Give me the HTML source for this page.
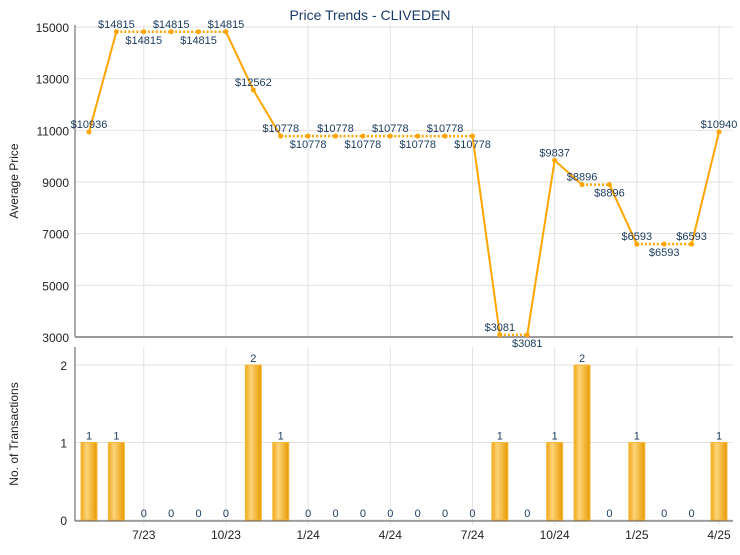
<!DOCTYPE html>
<html><head><meta charset="utf-8"><style>
body{margin:0;background:#fff;font-family:"Liberation Sans",sans-serif}
svg text{font-family:"Liberation Sans",sans-serif}
</style></head><body>
<svg width="740" height="550" viewBox="0 0 740 550" xmlns="http://www.w3.org/2000/svg">
<defs>
<linearGradient id="bg" x1="0" x2="1" y1="0" y2="0">
<stop offset="0" stop-color="#f0a818"/><stop offset="0.35" stop-color="#fcd47a"/><stop offset="1" stop-color="#e89a00"/>
</linearGradient>
</defs>
<text x="370" y="20" text-anchor="middle" font-size="14" fill="#1a3a6c">Price Trends - CLIVEDEN</text>
<g id="g"></g>
</svg>
<script>
const months=["5/23","6/23","7/23","8/23","9/23","10/23","11/23","12/23","1/24","2/24","3/24","4/24","5/24","6/24","7/24","8/24","9/24","10/24","11/24","12/24","1/25","2/25","3/25","4/25"];
const prices=[10936,14815,14815,14815,14815,14815,12562,10778,10778,10778,10778,10778,10778,10778,10778,3081,3081,9837,8896,8896,6593,6593,6593,10940];
const counts=[1,1,0,0,0,0,2,1,0,0,0,0,0,0,0,1,0,1,2,0,1,0,0,1];
const priceTicks=[3000,5000,7000,9000,11000,13000,15000];
const countTicks=[0,1,2];
const xTickLabels=["7/23","10/23","1/24","4/24","7/24","10/24","1/25","4/25"];

const NS="http://www.w3.org/2000/svg",g=document.getElementById('g');
function mk(t,a,txt){const e=document.createElementNS(NS,t);for(const k in a)e.setAttribute(k,a[k]);if(txt!==undefined)e.textContent=txt;g.appendChild(e);return e;}
const L=75,R=733,x0=89,dx=(719-x0)/(months.length-1);
const x=i=>x0+i*dx;
const yP=v=>337-(v-3000)/12000*310;
const yC=v=>520-v/2*155;
// grids
priceTicks.forEach(t=>{let e=mk('line',{x1:L,x2:R,y1:yP(t),y2:yP(t),stroke:'#e2e2e2'});
 e=mk('text',{x:L-6,y:yP(t)+5,'text-anchor':'end','font-size':12,fill:'#222'},t);});
countTicks.forEach(t=>{let e=mk('line',{x1:L,x2:R,y1:yC(t),y2:yC(t),stroke:'#e2e2e2'});
 e=mk('text',{x:L-8,y:yC(t)+5,'text-anchor':'end','font-size':12,fill:'#222'},t);});
xTickLabels.forEach(lb=>{const i=months.indexOf(lb),xx=x(i);
 let e=mk('line',{x1:xx,x2:xx,y1:25,y2:337,stroke:'#e2e2e2'});
 e=mk('line',{x1:xx,x2:xx,y1:347,y2:525,stroke:'#e2e2e2'});
 e=mk('text',{x:xx,y:539,'text-anchor':'middle','font-size':12,fill:'#222'},lb);});
let e=mk('line',{x1:L,x2:L,y1:25,y2:337,stroke:'#555'});
e=mk('line',{x1:L,x2:R,y1:337,y2:337,stroke:'#999','stroke-width':2});
e=mk('line',{x1:L,x2:L,y1:347,y2:521,stroke:'#555'});
e=mk('line',{x1:L,x2:R,y1:521,y2:521,stroke:'#555'});
e=mk('text',{x:18,y:181,'text-anchor':'middle','font-size':12,fill:'#222',transform:'rotate(-90 18 181)'},'Average Price');
e=mk('text',{x:18,y:434,'text-anchor':'middle','font-size':12,fill:'#222',transform:'rotate(-90 18 434)'},'No. of Transactions');
// bars
counts.forEach((c,i)=>{if(c>0){e=mk('rect',{x:x(i)-8,y:yC(c),width:16,height:yC(0)-yC(c),fill:'url(#bg)',stroke:'#f5b840'});}
 e=mk('text',{x:x(i),y:yC(c)-3,'text-anchor':'middle','font-size':11,fill:'#1a3a5c'},c);});
// line
for(let i=1;i<prices.length;i++){const flat=prices[i]===prices[i-1];
 e=mk('line',{x1:x(i-1),y1:yP(prices[i-1]),x2:x(i),y2:yP(prices[i]),stroke:'#ffa500','stroke-width':flat?2.5:2,'stroke-dasharray':flat?'2 2':'none'});}
let prevAbove=false;
prices.forEach((p,i)=>{e=mk('circle',{cx:x(i),cy:yP(p),r:2.5,fill:'#ffa500'});
 const above=!(i>0&&p===prices[i-1]&&prevAbove);prevAbove=above;
 e=mk('text',{x:x(i),y:above?yP(p)-4:yP(p)+12,'text-anchor':'middle','font-size':11,fill:'#1a3a5c'},'$'+p);});
</script>
</body></html>
